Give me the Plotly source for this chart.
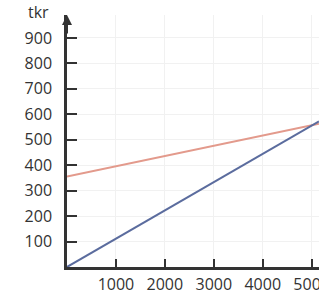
import plotly.graph_objects as go

# data
x_vals = [0, 5150]
red_vals = [355, 563]      # fixed-cost style line
blue_vals = [0, 572]       # proportional line
y_ticks = [100, 200, 300, 400, 500, 600, 700, 800, 900]
x_ticks = [1000, 2000, 3000, 4000, 5000]
y_unit = "tkr"

fig = go.Figure()
fig.add_trace(go.Scatter(x=x_vals, y=red_vals, mode="lines",
                         line=dict(color="#e39a8c", width=2), showlegend=False))
fig.add_trace(go.Scatter(x=x_vals, y=blue_vals, mode="lines",
                         line=dict(color="#5b6c9e", width=2), showlegend=False))

font = dict(family="Open Sans, Lato, sans-serif", size=16, color="#333333")
fig.update_layout(
    width=319, height=294,
    margin=dict(l=67, r=0, t=15, b=27),
    paper_bgcolor="white", plot_bgcolor="white",
    font=font,
    xaxis=dict(range=[0, 5150], tickvals=x_ticks, ticks="inside", ticklen=8,
               tickwidth=1.5, tickcolor="#333", showline=True, linecolor="#333",
               linewidth=2.5, showgrid=True, gridcolor="#f1f1f1", zeroline=False,
               ticklabelstandoff=1, ticklabeloverflow="allow", automargin=False,
               fixedrange=True),
    yaxis=dict(range=[0, 990], tickvals=y_ticks, ticks="inside", ticklen=10,
               tickwidth=1.5, tickcolor="#333", showline=True, linecolor="#333",
               linewidth=2.5, showgrid=True, gridcolor="#f1f1f1", zeroline=False,
               ticklabelstandoff=9, automargin=False, fixedrange=True),
)
fig.add_annotation(xref="paper", yref="paper", x=-0.065, y=1.01, text=y_unit,
                   showarrow=False, xanchor="right", yanchor="middle",
                   font=font)
fig.add_annotation(xref="x", yref="y", x=0, y=990, ax=0, ay=20, axref="pixel",
                   ayref="pixel", text="", showarrow=True, arrowhead=2,
                   arrowsize=1, arrowwidth=2, arrowcolor="#333")
fig.write_html("out.html", config={"displayModeBar": False},
               post_script="document.body.style.margin='0';document.body.style.overflow='hidden';")
